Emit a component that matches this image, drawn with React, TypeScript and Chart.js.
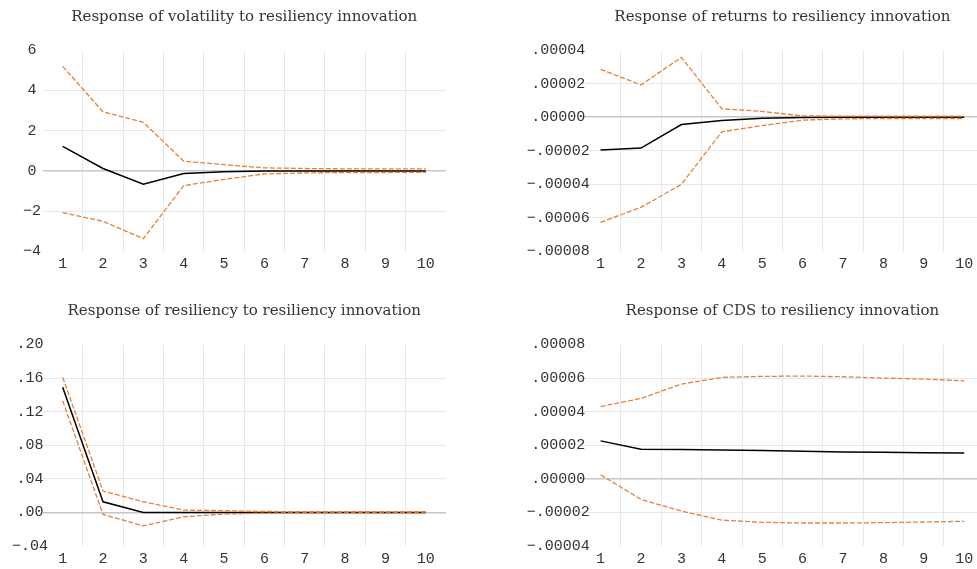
import React, { useEffect, useRef } from "react";
import { Chart, registerables } from "chart.js";
Chart.register(...registerables);

const periods = ["1", "2", "3", "4", "5", "6", "7", "8", "9", "10"];

const volMid = [1.22, 0.12, -0.66, -0.13, -0.04, -0.01, 0.0, 0.0, 0.0, 0.0];
const volUpper = [5.19, 2.93, 2.41, 0.48, 0.31, 0.15, 0.12, 0.1, 0.1, 0.1];
const volLower = [-2.07, -2.5, -3.36, -0.73, -0.42, -0.15, -0.1, -0.08, -0.08, -0.07];
const volTicks = [-4, -2, 0, 2, 4, 6];

const retMid = [-1.96e-5, -1.84e-5, -0.44e-5, -0.2e-5, -0.06e-5, -0.02e-5, -0.01e-5, 0, 0, 0];
const retUpper = [2.85e-5, 1.92e-5, 3.56e-5, 0.5e-5, 0.34e-5, 0.08e-5, 0.06e-5, 0.06e-5, 0.06e-5, 0.06e-5];
const retLower = [-6.26e-5, -5.37e-5, -4.0e-5, -0.87e-5, -0.5e-5, -0.18e-5, -0.1e-5, -0.08e-5, -0.08e-5, -0.08e-5];
const retTicks = [-8e-5, -6e-5, -4e-5, -2e-5, 0, 2e-5, 4e-5];

const resMid = [0.149, 0.0127, 0.0, 0.0, 0.0, 0.0, 0.0, 0.0, 0.0, 0.0];
const resUpper = [0.161, 0.0255, 0.0127, 0.0028, 0.002, 0.0012, 0.0008, 0.0008, 0.0008, 0.0008];
const resLower = [0.133, -0.0024, -0.016, -0.0052, -0.002, -0.0008, -0.0006, -0.0006, -0.0006, -0.0006];
const resTicks = [-0.04, 0.0, 0.04, 0.08, 0.12, 0.16, 0.2];

const cdsMid = [2.26e-5, 1.76e-5, 1.74e-5, 1.72e-5, 1.68e-5, 1.64e-5, 1.6e-5, 1.58e-5, 1.56e-5, 1.54e-5];
const cdsUpper = [4.3e-5, 4.79e-5, 5.64e-5, 6.04e-5, 6.1e-5, 6.12e-5, 6.08e-5, 6.0e-5, 5.94e-5, 5.84e-5];
const cdsLower = [0.24e-5, -1.23e-5, -1.92e-5, -2.46e-5, -2.59e-5, -2.63e-5, -2.63e-5, -2.61e-5, -2.57e-5, -2.53e-5];
const cdsTicks = [-4e-5, -2e-5, 0, 2e-5, 4e-5, 6e-5, 8e-5];

const titles = [
  "Response of volatility to resiliency innovation",
  "Response of returns to resiliency innovation",
  "Response of resiliency to resiliency innovation",
  "Response of CDS to resiliency innovation",
];

const ORANGE = "#e5823a";
const MONO = "'Liberation Mono', monospace";

function fmt(v: number, d: number): string {
  let s = Math.abs(v) < 1e-12 ? (0).toFixed(d) : v.toFixed(d);
  if (d > 0) s = s.replace(/^(-?)0\./, "$1.");
  return s.replace("-", "\u2212");
}

type PanelCfg = {
  left: number; top: number; w: number; h: number;
  title: string; mid: number[]; upper: number[]; lower: number[];
  ticks: number[]; dec: number;
  yWidth: number; padRight: number; xHeight: number;
  titleTop: number; titleBottom: number; labelPad: number;
};

const panels: PanelCfg[] = [
  { left: 0, top: 0, w: 490, h: 285, title: titles[0], mid: volMid, upper: volUpper, lower: volLower,
    ticks: volTicks, dec: 0, yWidth: 42.5, padRight: 44, xHeight: 33.5, titleTop: 8.5, titleBottom: 23.5, labelPad: -19.5 },
  { left: 490, top: 0, w: 500, h: 285, title: titles[1], mid: retMid, upper: retUpper, lower: retLower,
    ticks: retTicks, dec: 5, yWidth: 90.4, padRight: 5.6, xHeight: 33.5, titleTop: 8.5, titleBottom: 23.5, labelPad: -53.6 },
  { left: 0, top: 294, w: 490, h: 275, title: titles[2], mid: resMid, upper: resUpper, lower: resLower,
    ticks: resTicks, dec: 2, yWidth: 42.5, padRight: 44, xHeight: 23, titleTop: 8, titleBottom: 24.5, labelPad: -30.5 },
  { left: 490, top: 294, w: 500, h: 275, title: titles[3], mid: cdsMid, upper: cdsUpper, lower: cdsLower,
    ticks: cdsTicks, dec: 5, yWidth: 90.4, padRight: 5.6, xHeight: 23, titleTop: 8, titleBottom: 24.5, labelPad: -53.6 },
];

function Panel({ cfg }: { cfg: PanelCfg }) {
  const ref = useRef<HTMLCanvasElement>(null);
  useEffect(() => {
    if (!ref.current) return;
    const n = cfg.ticks.length;
    const chart = new Chart(ref.current, {
      type: "line",
      data: {
        labels: periods,
        datasets: [
          { data: cfg.upper, borderColor: ORANGE, borderWidth: 1.3, borderDash: [5, 2], pointRadius: 0, fill: false, tension: 0 },
          { data: cfg.lower, borderColor: ORANGE, borderWidth: 1.3, borderDash: [5, 2], pointRadius: 0, fill: false, tension: 0 },
          { data: cfg.mid, borderColor: "#000000", borderWidth: 1.5, pointRadius: 0, fill: false, tension: 0 },
        ],
      },
      options: {
        responsive: false,
        maintainAspectRatio: false,
        animation: false,
        devicePixelRatio: 1,
        events: [],
        layout: { padding: { left: 0, right: cfg.padRight, top: 0, bottom: 0 } },
        plugins: {
          legend: { display: false },
          tooltip: { enabled: false },
          title: {
            display: true,
            text: cfg.title,
            fullSize: false,
            color: "#333333",
            font: { family: "'DejaVu Serif', serif", size: 15, weight: "normal", lineHeight: 1.2 },
            padding: { top: cfg.titleTop, bottom: cfg.titleBottom },
          },
        },
        scales: {
          x: {
            type: "category",
            offset: true,
            border: { display: false },
            grid: {
              offset: true,
              drawTicks: false,
              color: (c: any) => (c.type !== "tick" || c.index === 0 ? "rgba(0,0,0,0)" : "#e8e8e8"),
              lineWidth: 1,
            },
            ticks: { color: "#333333", font: { family: MONO, size: 15 }, padding: 4, maxRotation: 0, autoSkip: false },
            afterFit: (s: any) => { s.height = cfg.xHeight; },
          },
          y: {
            min: cfg.ticks[0],
            max: cfg.ticks[n - 1],
            border: { display: false },
            afterBuildTicks: (s: any) => { s.ticks = cfg.ticks.map((v) => ({ value: v })); },
            afterFit: (s: any) => { s.width = cfg.yWidth; },
            grid: {
              drawTicks: false,
              color: (c: any) => {
                if (c.type !== "tick" || c.index === 0 || c.index === n - 1) return "rgba(0,0,0,0)";
                return Math.abs(c.tick.value) < 1e-12 ? "#c6c6c6" : "#e8e8e8";
              },
              lineWidth: (c: any) => (c.type === "tick" && Math.abs(c.tick.value) < 1e-12 ? 1.6 : 1),
            },
            ticks: {
              mirror: true,
              crossAlign: "center",
              padding: cfg.labelPad,
              color: "#333333",
              font: { family: MONO, size: 15 },
              callback: (v: any) => fmt(Number(v), cfg.dec),
            },
          },
        },
      } as any,
    });
    return () => chart.destroy();
  }, [cfg]);
  return (
    <div style={{ position: "absolute", left: cfg.left, top: cfg.top, width: cfg.w, height: cfg.h }}>
      <canvas ref={ref} width={cfg.w} height={cfg.h} style={{ width: cfg.w, height: cfg.h, display: "block" }} />
    </div>
  );
}

export default function App() {
  return (
    <div style={{ position: "absolute", left: 0, top: 0, width: 977, height: 569, overflow: "hidden", background: "#ffffff" }}>
      {panels.map((p, i) => (
        <Panel key={i} cfg={p} />
      ))}
    </div>
  );
}
